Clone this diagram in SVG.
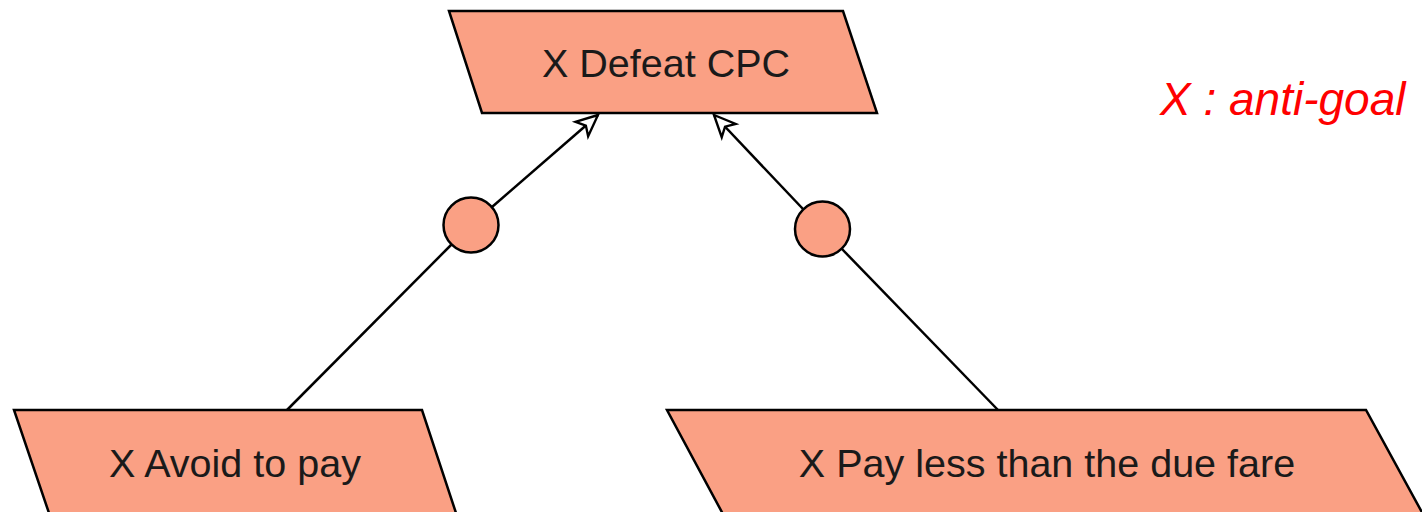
<svg xmlns="http://www.w3.org/2000/svg" width="1422" height="512" viewBox="0 0 1422 512">
<style>
.node{fill:#FAA084;stroke:#000;stroke-width:2.5;stroke-linejoin:miter}
.lbl{font-family:"Liberation Sans",Arial,sans-serif;font-size:39.5px;fill:#1a1a1a;text-anchor:middle}
.edge{fill:none;stroke:#000;stroke-width:2.5}
.note{font-family:"Liberation Sans",Arial,sans-serif;font-size:46px;font-style:italic;fill:#FF0000}
</style>
<defs>
<marker id="arr" markerUnits="userSpaceOnUse" markerWidth="30" markerHeight="30" viewBox="-24 -13 28 26" refX="0" refY="0" orient="auto">
<path d="M0,0 L-20,-9 L-15,0 L-20,9 Z" fill="#fff" stroke="#000" stroke-width="2.2" stroke-linejoin="miter"/>
</marker>
</defs>
<rect width="1422" height="512" fill="#fff"/>
<g id="connectors">
<line class="edge" x1="287" y1="410" x2="452" y2="244"/>
<line class="edge" x1="492" y1="207" x2="598" y2="115" marker-end="url(#arr)"/>
<line class="edge" x1="998" y1="410" x2="841" y2="248"/>
<line class="edge" x1="803" y1="209" x2="714" y2="115" marker-end="url(#arr)"/>
</g>
<g id="or-left"><circle class="node" cx="471" cy="225" r="27.5"/></g>
<g id="or-right"><circle class="node" cx="822.5" cy="229" r="27.5"/></g>
<g id="n-defeat">
<polygon class="node" points="449,11 843,11 877,113 482,113"/>
<text class="lbl" x="666" y="77">X Defeat CPC</text>
</g>
<g id="n-avoid">
<polygon class="node" points="14,410 422,410 457,516 50,516"/>
<text class="lbl" x="235" y="477">X Avoid to pay</text>
</g>
<g id="n-payless">
<polygon class="node" points="667,410 1366,410 1424,516 724,516"/>
<text class="lbl" x="1047" y="477">X Pay less than the due fare</text>
</g>
<g id="note">
<text class="note" x="1160" y="115">X : anti-goal</text>
</g>
</svg>
